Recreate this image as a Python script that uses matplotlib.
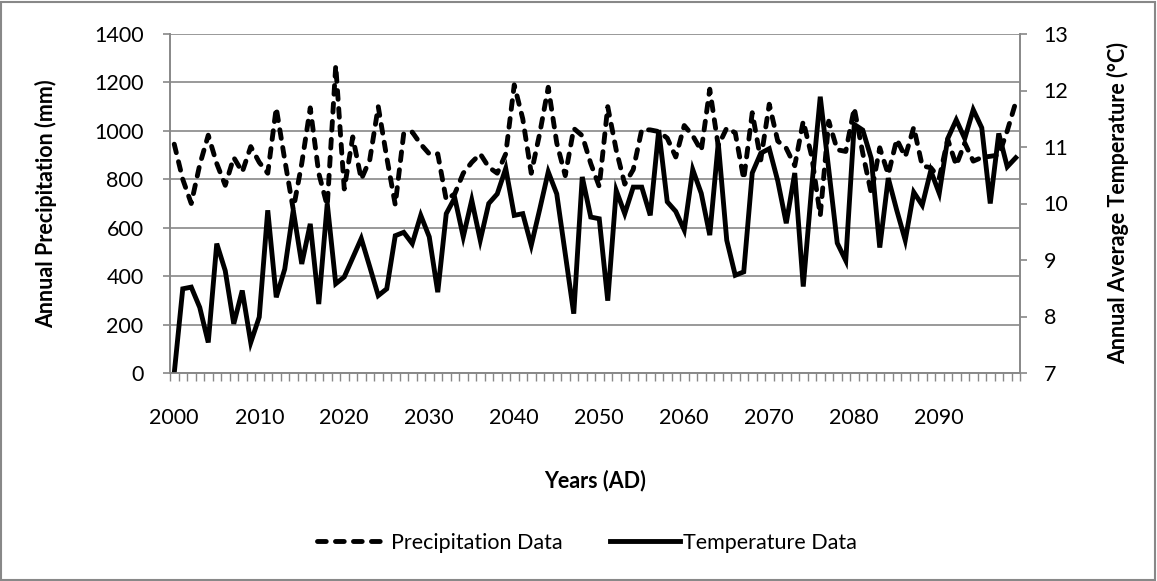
import matplotlib
matplotlib.use("Agg")
import matplotlib.pyplot as plt
import matplotlib.patches as patches
import numpy as np

plt.rcParams["font.family"] = ["Lato", "DejaVu Sans"]

# years 2000..2099
years = list(range(2000, 2100))

# annual precipitation (mm)
precip_mm = [
    945, 800, 700, 860, 982, 865, 775, 890, 830, 935,
    870, 825, 1095, 880, 675, 865, 1095, 825, 690, 1270,
    760, 975, 800, 880, 1100, 890, 695, 990, 995, 945,
    905, 905, 715, 740, 825, 870, 905, 850, 825, 905,
    1190, 1050, 825, 990, 1180, 950, 815, 1010, 980, 865,
    770, 1100, 920, 780, 840, 1005, 1004, 997, 970, 892,
    1022, 980, 918, 1172, 938, 1012, 992, 800, 1075, 880,
    1110, 958, 928, 856, 1040, 894, 650, 1040, 922, 915,
    1094, 908, 742, 930, 820, 965, 893, 1015, 855, 848,
    805, 965, 858, 950, 875, 890, 895, 900, 1000, 1118,
]

# annual average temperature (deg C)
temp_c = [
    7.00, 8.49, 8.52, 8.16, 7.54, 9.29, 8.81, 7.87, 8.46, 7.54,
    7.99, 9.88, 8.34, 8.84, 9.88, 8.93, 9.64, 8.22, 10.00, 8.58,
    8.70, 9.04, 9.38, 8.88, 8.37, 8.49, 9.43, 9.49, 9.29, 9.79,
    9.41, 8.43, 9.82, 10.10, 9.41, 10.06, 9.35, 10.00, 10.17, 10.62,
    9.79, 9.82, 9.26, 9.90, 10.56, 10.17, 9.11, 8.05, 10.47, 9.76,
    9.73, 8.28, 10.23, 9.82, 10.29, 10.29, 9.79, 11.30, 10.03, 9.86,
    9.53, 10.60, 10.18, 9.44, 11.07, 9.35, 8.73, 8.79, 10.54, 10.89,
    10.97, 10.40, 9.65, 10.54, 8.53, 10.30, 11.89, 10.60, 9.30, 8.99,
    11.40, 11.30, 10.80, 9.22, 10.45, 9.88, 9.35, 10.20, 9.97, 10.58,
    10.18, 11.15, 11.48, 11.15, 11.66, 11.34, 10.00, 11.24, 10.65, 10.81,
]

precip_ticks = [0, 200, 400, 600, 800, 1000, 1200, 1400]
temp_ticks = [7, 8, 9, 10, 11, 12, 13]
year_labels = [str(y) for y in range(2000, 2100, 10)]

GRID = "#888888"
FS = 15.5
LW = 3.5

fig = plt.figure(figsize=(11.57, 5.81), dpi=100)
ax = fig.add_axes([170 / 1157, 1 - 373 / 581, 850 / 1157, 339 / 581])
ax2 = ax.twinx()

x = np.arange(len(years))

lp, = ax.plot(x, precip_mm, color="black", lw=LW, ls=(0, (1.8, 1.9)),
              dash_capstyle="round", label="Precipitation Data")
lt, = ax2.plot(x, temp_c, color="black", lw=LW, solid_joinstyle="miter",
               label="Temperature Data")

ax.set_xlim(-0.5, len(years) - 0.5)
ax.set_ylim(0, 1400)
ax2.set_ylim(7, 13)
ax.set_yticks(precip_ticks)
ax2.set_yticks(temp_ticks)
ax.set_xticks(np.arange(0, 100, 10))
ax.set_xticklabels(year_labels)
ax.set_xticks(np.arange(-0.5, 100, 1), minor=True)

ax.yaxis.grid(True, color=GRID, lw=1.2)
ax.set_axisbelow(True)

for a in (ax, ax2):
    a.spines["top"].set_visible(False)
    for s in ("left", "right", "bottom"):
        a.spines[s].set_color(GRID)
        a.spines[s].set_linewidth(1.2)
    a.tick_params(axis="both", colors=GRID, labelcolor="black", labelsize=FS)

ax.tick_params(axis="x", which="major", length=0, pad=25)
ax.tick_params(axis="x", which="minor", length=6, width=1, color=GRID)
ax.tick_params(axis="y", length=5, width=1.2, pad=14)
ax2.tick_params(axis="y", length=5, width=1.2, pad=12)

ax.set_ylabel("Annual Precipitation (mm)", fontsize=FS, fontweight="bold")
ax.yaxis.set_label_coords(-0.133, 0.5)
ax2.set_ylabel("Annual Average Temperature (°C)", fontsize=FS,
               fontweight="bold", rotation=90)
ax2.yaxis.set_label_coords(1.102, 0.5)
ax.set_xlabel("Years (AD)", fontsize=FS, fontweight="bold")
ax.xaxis.set_label_coords(0.5, -0.286)

fig.legend([lp, lt], ["Precipitation Data", "Temperature Data"],
           loc="center", bbox_to_anchor=(587 / 1157, 1 - 543 / 581),
           ncol=2, frameon=False, fontsize=FS, handlelength=3.25,
           columnspacing=2.2, handletextpad=0.15)

fig.patches.append(patches.Rectangle((1 / 1157, 1 / 581), 1 - 3 / 1157, 1 - 3 / 581,
                                     transform=fig.transFigure, fill=False,
                                     edgecolor=GRID, lw=1.5))

fig.savefig("out.png", dpi=100)
